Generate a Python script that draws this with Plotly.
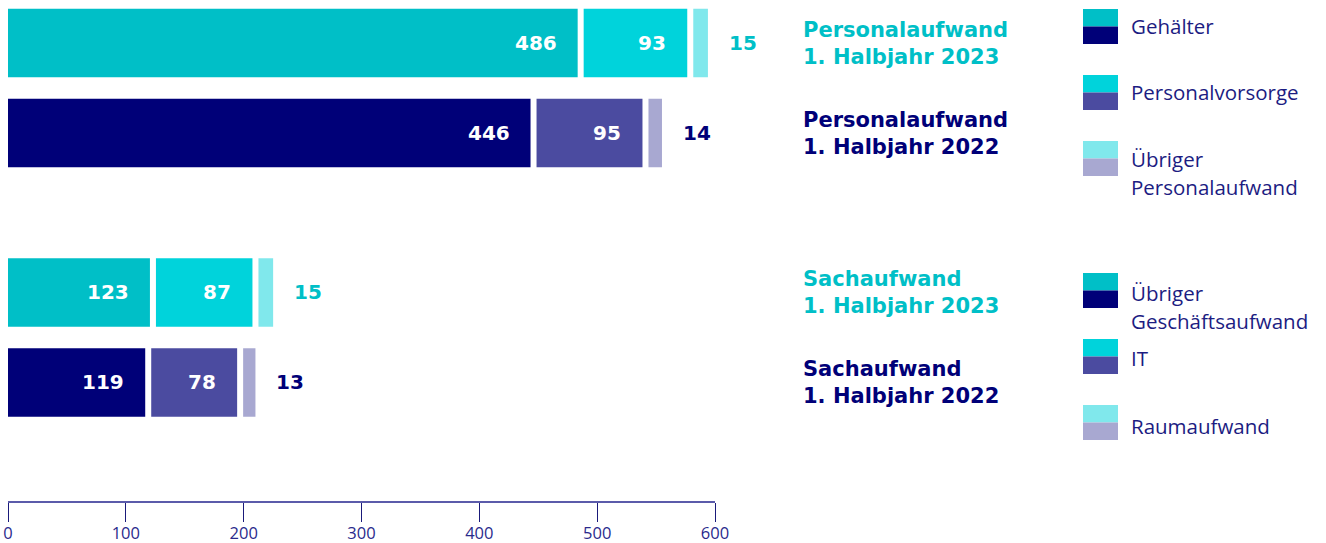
import plotly.graph_objects as go

# ---- data ----
row_labels_line1 = ["Personalaufwand", "Personalaufwand", "Sachaufwand", "Sachaufwand"]
row_labels_line2 = ["1. Halbjahr 2023", "1. Halbjahr 2022", "1. Halbjahr 2023", "1. Halbjahr 2022"]
row_years = [2023, 2022, 2023, 2022]

# segments per row (first, second, third)
seg1_values = [486, 446, 123, 119]   # Gehälter / Übriger Geschäftsaufwand
seg2_values = [93, 95, 87, 78]       # Personalvorsorge / IT
seg3_values = [15, 14, 15, 13]       # Übriger Personalaufwand / Raumaufwand

legend_personal = [["Gehälter"], ["Personalvorsorge"], ["Übriger", "Personalaufwand"]]
legend_sach = [["Übriger", "Geschäftsaufwand"], ["IT"], ["Raumaufwand"]]

x_ticks = [0, 100, 200, 300, 400, 500, 600]

# ---- styling ----
FONT = "Open Sans"
BOLD = "DejaVu Sans"
pal_2023 = ["#00BFC7", "#00D3DB", "#80E8EC"]
pal_2022 = ["#000078", "#4B4BA0", "#A8A8D1"]
label_col = {2023: "#00BFC7", 2022: "#000078"}
legend_text_col = "#1C1C82"

W, H = 1326, 543
ML, MR, MT, MB = 8, 611, 0, 42
PW, PH = W - ML - MR, H - MT - MB
px_per_unit = PW / 600.0

# row positions (layout), in units of row pitch
row_pos = [0, 1, 2.772, 3.772]
pitch = 90.0
y_top = -43 / pitch
y_bot = (PH - 43) / pitch
bar_w = 68.5 / pitch
gap_u = 6.0 / px_per_unit  # white gap between segments

segs = [seg1_values, seg2_values, seg3_values]
fig = go.Figure()
annotations = []
for k in range(3):
    bases, widths, colors = [], [], []
    for r in range(4):
        start = sum(segs[j][r] for j in range(k))
        end = start + segs[k][r]
        b = start + (gap_u / 2 if k > 0 else 0)
        e = end - (gap_u / 2 if k < 2 else 0)
        bases.append(b)
        widths.append(e - b)
        colors.append((pal_2023 if row_years[r] == 2023 else pal_2022)[k])
        if k < 2:
            annotations.append(dict(
                x=e, y=row_pos[r], xref="x", yref="y", text=str(segs[k][r]),
                xanchor="right", yanchor="middle", xshift=-19, showarrow=False,
                font=dict(family=BOLD, size=20, color="white", weight="bold")))
        else:
            annotations.append(dict(
                x=e, y=row_pos[r], xref="x", yref="y", text=str(segs[k][r]),
                xanchor="left", yanchor="middle", xshift=19, showarrow=False,
                font=dict(family=BOLD, size=20, color=label_col[row_years[r]], weight="bold")))
    fig.add_trace(go.Bar(
        orientation="h", y=row_pos, x=widths, base=bases, width=bar_w,
        marker=dict(color=colors, line=dict(width=0)),
        hoverinfo="skip", showlegend=False))

def px_x(p):
    return (p - ML) / PW

def px_y(p):
    return 1 - (p - MT) / PH

# row titles on the right
for r in range(4):
    annotations.append(dict(
        x=px_x(801), y=row_pos[r], xref="paper", yref="y",
        text=row_labels_line1[r] + "<br>" + row_labels_line2[r],
        xanchor="left", yanchor="middle", align="left", showarrow=False,
        font=dict(family=BOLD, size=21, color=label_col[row_years[r]], weight="bold")))

# legend swatches (two-tone) and texts
shapes = []
sw_x0, sw_x1 = 1083, 1118
sw_tops = [9, 75, 141, 273, 339, 405]
sw_h = 35
legend_texts = legend_personal + legend_sach
first_line_centers = [26, 92, 159, 293, 358, 426]
line_gap = 28
for i, top in enumerate(sw_tops):
    k = i % 3
    shapes.append(dict(type="rect", xref="paper", yref="paper",
                       x0=px_x(sw_x0), x1=px_x(sw_x1), y0=px_y(top), y1=px_y(top + sw_h / 2),
                       fillcolor=pal_2023[k], line=dict(width=0), layer="above"))
    shapes.append(dict(type="rect", xref="paper", yref="paper",
                       x0=px_x(sw_x0), x1=px_x(sw_x1), y0=px_y(top + sw_h / 2), y1=px_y(top + sw_h),
                       fillcolor=pal_2022[k], line=dict(width=0), layer="above"))
    for j, line in enumerate(legend_texts[i]):
        annotations.append(dict(
            x=px_x(1129), y=px_y(first_line_centers[i] + j * line_gap), xref="paper", yref="paper",
            text=line, xanchor="left", yanchor="middle", align="left",
            showarrow=False, font=dict(family=FONT, size=20.5, color=legend_text_col)))

fig.update_layout(
    width=W, height=H,
    margin=dict(l=ML, r=MR, t=MT, b=MB, pad=0),
    paper_bgcolor="white", plot_bgcolor="white",
    barmode="overlay",
    showlegend=False,
    annotations=annotations,
    shapes=shapes,
    xaxis=dict(range=[0, 600], tickvals=x_ticks, ticktext=[str(v) for v in x_ticks],
               showgrid=False, zeroline=False, showline=True, linecolor="#5B5BAA", linewidth=1.5,
               ticks="outside", ticklen=19, tickwidth=1, tickcolor="#1A1A7A",
               ticklabelstandoff=-3,
               tickfont=dict(family=FONT, size=16.5, color="#2A2A8C"), fixedrange=True,
               automargin=False),
    yaxis=dict(range=[y_bot, y_top], showgrid=False, zeroline=False, showline=False,
               showticklabels=False, ticks="", fixedrange=True, automargin=False),
)

fig.write_html("out.html")
